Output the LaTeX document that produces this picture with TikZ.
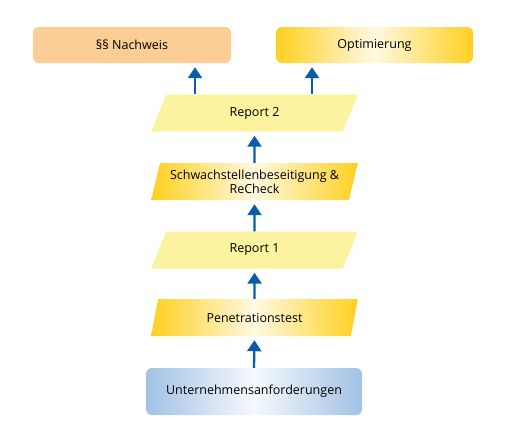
\documentclass[tikz,border=0pt]{standalone}
\usepackage{fontspec}
\setmainfont{Open Sans}
\usetikzlibrary{shapes.geometric,arrows.meta}
\definecolor{nachw}{RGB}{250,206,148}
\definecolor{gold}{RGB}{255,203,8}
\definecolor{paleyel}{RGB}{252,243,160}
\definecolor{blueb}{RGB}{138,178,222}
\definecolor{arrowblue}{RGB}{10,92,170}
\pgfdeclarehorizontalshading{goldsh}{100bp}{color(0bp)=(gold); color(22bp)=(gold); color(50bp)=(white!88!gold); color(78bp)=(gold); color(100bp)=(gold)}
\pgfdeclarehorizontalshading{bluesh}{100bp}{color(0bp)=(blueb); color(18bp)=(blueb); color(50bp)=(white!92!blueb); color(82bp)=(blueb); color(100bp)=(blueb)}
\tikzset{
  rbox/.style={rectangle, rounded corners=6pt, font=\fontsize{12.5}{14.5}\selectfont, align=center, inner sep=1pt},
  para/.style={trapezium, trapezium left angle=73, trapezium right angle=107, trapezium stretches=true,
    minimum width=207pt, minimum height=37pt, inner xsep=0pt, inner ysep=1pt,
    font=\fontsize{12.5}{14}\selectfont, align=center},
  plain/.style={fill=paleyel},
  goldshade/.style={shading=goldsh},
  blueshade/.style={shading=bluesh},
  flow/.style={draw=arrowblue, line width=2.3pt, -{Triangle[width=14pt,length=11pt]}, shorten >=4pt}
}
\begin{document}
\begin{tikzpicture}[x=1pt,y=-1pt]
\useasboundingbox[fill=white] (0,0) rectangle (510,442);
\node[rbox, fill=nachw, minimum width=198pt, minimum height=36pt] (nachweis) at (132,45) {§§ Nachweis};
\node[rbox, goldshade, minimum width=197pt, minimum height=36pt] (opt) at (374.5,45) {Optimierung};
\node[para, plain] (rep2) at (254.5,113) {Report 2};
\node[para, goldshade] (schw) at (254.5,181.5) {Schwachstellenbeseitigung \&\\ReCheck};
\node[para, plain] (rep1) at (254.5,250) {Report 1};
\node[para, goldshade] (pen) at (254.5,317.5) {Penetrationstest};
\node[rbox, blueshade, minimum width=216pt, minimum height=47pt] (unt) at (254,391.5) {Unternehmensanforderungen};
\coordinate (lx) at (195,0);
\coordinate (rx) at (312,0);
\draw[flow] (unt.north) -- (pen.south);
\draw[flow] (pen.north) -- (rep1.south);
\draw[flow] (rep1.north) -- (schw.south);
\draw[flow] (schw.north) -- (rep2.south);
\draw[flow] (rep2.north -| lx) -- (nachweis.south -| lx);
\draw[flow] (rep2.north -| rx) -- (opt.south -| rx);
\end{tikzpicture}
\end{document}
